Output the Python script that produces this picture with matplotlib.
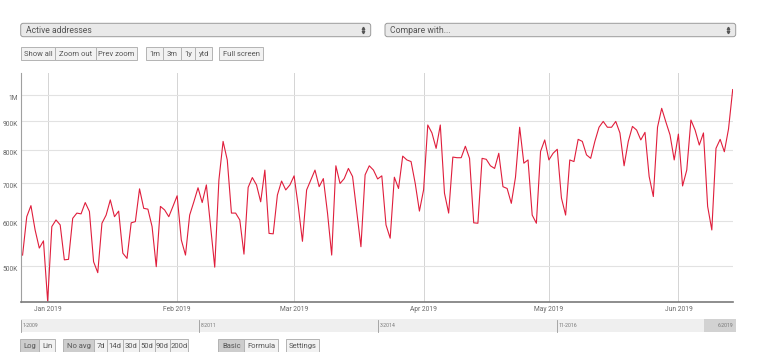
import numpy as np
import pandas as pd
import matplotlib
matplotlib.use("Agg")
import matplotlib.pyplot as plt
import matplotlib.dates as mdates
from matplotlib.patches import Rectangle, FancyBboxPatch
from matplotlib.ticker import NullLocator

plt.rcParams['font.family'] = ['Roboto', 'DejaVu Sans']

# daily active addresses, in thousands, starting 2018-12-26
start_date = "2018-12-26"
active_k = [
    522, 610, 638, 578, 537, 553,
    433, 586, 602, 590, 512, 513, 606, 619, 617, 646,
    623, 508, 486, 594, 614, 653, 610, 624, 526, 515,
    595, 598, 683, 631, 629, 586, 498, 636, 627, 610,
    636, 664, 555, 522, 614, 648, 686, 646, 694, 586,
    497, 708, 828, 768, 619, 619, 602, 524, 687, 715,
    694, 648, 737, 570, 569, 666, 705, 680, 694, 720,
    636, 552, 680, 708, 737, 689, 712, 619, 522, 750,
    698, 712, 742, 718, 623, 540, 723, 750, 737, 711,
    720, 590, 559, 716, 684, 780, 768, 763, 698, 624,
    680, 885, 857, 805, 885, 671, 619, 777, 775, 775,
    812, 773, 595, 594, 773, 770, 750, 742, 789, 689,
    684, 644, 716, 877, 758, 768, 614, 594, 795, 833,
    768, 789, 802, 658, 614, 768, 763, 835, 828, 784,
    773, 828, 877, 898, 877, 877, 898, 857, 750, 828,
    880, 867, 833, 859, 718, 662, 877, 947, 896, 850,
    768, 853, 691, 737, 903, 867, 816, 857, 636, 578,
    805, 835, 794, 871, 1022,
]

y_ticks = [500e3, 600e3, 700e3, 800e3, 900e3, 1e6]
y_labels = ["500K", "600K", "700K", "800K", "900K", "1M"]
month_starts = ["2019-01-01", "2019-02-01", "2019-03-01",
                "2019-04-01", "2019-05-01", "2019-06-01"]
month_labels = ["Jan 2019", "Feb 2019", "Mar 2019",
                "Apr 2019", "May 2019", "Jun 2019"]

top_buttons = ["Show all", "Zoom out", "Prev zoom", "1m", "3m", "1y", "ytd", "Full screen"]
bottom_buttons = ["Log", "Lin", "No avg", "7d", "14d", "30d", "50d", "90d", "200d",
                  "Basic", "Formula", "Settings"]
bottom_active = ["Log", "No avg", "Basic"]
slider_labels = ["1-2009", "8-2011", "3-2014", "11-2016", "6-2019"]

# layout in pixels (x from left, y from top)
W, H = 763, 352
top_edges = [(20.7, 55.3), (55.3, 95.7), (95.7, 137.3), (145.7, 163.3),
             (163.3, 181), (181, 195), (195, 212.3), (219, 263.3)]
bottom_edges = [(20, 39.3), (39.3, 55), (62.7, 94.3), (94.3, 106.7), (106.7, 123.3),
                (123.3, 139.3), (139.3, 155), (155, 170), (170, 188.3),
                (218.3, 244.3), (244.3, 277.7), (285.7, 319)]
slider_x = [20.7, 199, 378, 556.7, 733]


def button(ax, x0, x1, y0, y1, label, active=False, fs=5.5):
    ax.add_patch(Rectangle((x0, y0), x1 - x0, y1 - y0,
                           facecolor='#cdcdcd' if active else '#f2f2f2',
                           edgecolor='#b3b3b3', lw=0.7))
    ax.text((x0 + x1) / 2, (y0 + y1) / 2 + 0.3, label, ha='center', va='center',
            fontsize=fs, color='#555555')


def dropdown(ax, x0, x1, y0, y1, label):
    ax.add_patch(FancyBboxPatch((x0, y0), x1 - x0, y1 - y0,
                                boxstyle="round,pad=0,rounding_size=2.5",
                                facecolor='#e9e9e9', edgecolor='#9a9a9a', lw=0.7))
    ax.text(x0 + 5, (y0 + y1) / 2 + 0.3, label, ha='left', va='center',
            fontsize=6.2, color='#555555')
    ax.plot(x1 - 7.5, (y0 + y1) / 2 - 1.8, marker='^', ms=1.8, color='#555555')
    ax.plot(x1 - 7.5, (y0 + y1) / 2 + 1.8, marker='v', ms=1.8, color='#555555')


fig = plt.figure(figsize=(W / 100, H / 100), dpi=100)

ui = fig.add_axes([0, 0, 1, 1])
ui.set_xlim(0, W)
ui.set_ylim(H, 0)
ui.axis('off')

dropdown(ui, 20.7, 370.7, 23.3, 36.7, "Active addresses")
dropdown(ui, 385, 735.7, 23.3, 36.7, "Compare with...")

for label, (x0, x1) in zip(top_buttons, top_edges):
    button(ui, x0, x1, 47.3, 60, label)

for label, (x0, x1) in zip(bottom_buttons, bottom_edges):
    button(ui, x0, x1, 339.3, 352.5, label, active=label in bottom_active)

# range slider
ui.add_patch(Rectangle((20.7, 319), 735.7 - 20.7, 12.7, facecolor='#efefef', lw=0))
ui.add_patch(Rectangle((704, 319), 735.7 - 704, 12.7, facecolor='#d2d2d2', lw=0))
for i, (lab, sx) in enumerate(zip(slider_labels, slider_x)):
    if i < len(slider_labels) - 1:
        ui.plot([sx, sx], [319.5, 331.5], color='#9a9a9a', lw=0.6)
        ui.text(sx + 1.5, 325.6, lab, ha='left', va='center', fontsize=3.7, color='#777777')
    else:
        ui.text(sx, 325.6, lab, ha='right', va='center', fontsize=3.7, color='#777777')

# main chart
dates = pd.date_range(start_date, periods=len(active_k), freq="D")
xd = mdates.date2num(dates)
values = np.array(active_k) * 1000.0

left, right, top, bottom = 20.7, 732.7, 73.0, 301.7
ax = fig.add_axes([left / W, (H - bottom) / H, (right - left) / W, (bottom - top) / H])
ax.patch.set_alpha(0)

ax.plot(xd, values, color='#e01e3c', lw=0.8)

ax.set_yscale('log')
ax.set_ylim(432e3, 1093e3)
ax.set_xlim(xd[0] - 0.45, xd[-1])

ax.set_yticks(y_ticks, labels=y_labels)
ax.yaxis.set_minor_locator(NullLocator())
ax.set_xticks(mdates.date2num(pd.to_datetime(month_starts)), labels=month_labels)

ax.tick_params(axis='y', length=0, pad=1.7, labelsize=4.8, labelcolor='#666666')
ax.tick_params(axis='x', length=0, pad=3.3, labelsize=4.8, labelcolor='#666666')
for t in ax.get_yticklabels():
    t.set_va('top')

ax.grid(axis='y', color='#e2e2e2', lw=0.8)
ax.grid(axis='x', color='#d4d4d4', lw=0.7)
ax.set_axisbelow(True)

for s in ['top', 'right']:
    ax.spines[s].set_visible(False)
ax.spines['left'].set_color('#a0a0a0')
ax.spines['left'].set_linewidth(0.8)
ax.spines['bottom'].set_color('#7a7a7a')
ax.spines['bottom'].set_linewidth(1.2)

fig.savefig("out.png", dpi=100, facecolor='white')
